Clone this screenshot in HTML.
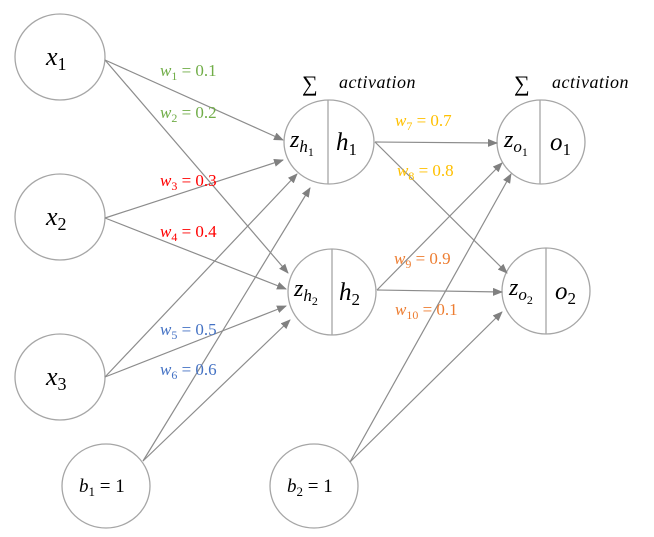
<!DOCTYPE html>
<html><head><meta charset="utf-8"><style>
html,body{margin:0;padding:0;background:#fff;width:654px;height:537px;overflow:hidden}
svg{display:block}
.m{font-family:"Liberation Serif",serif;font-style:italic}
.n{font-family:"Liberation Serif",serif;font-style:normal}
.w{font-family:"Liberation Serif",serif;font-size:17px}
</style></head><body>
<svg width="654" height="537" viewBox="0 0 654 537" xmlns="http://www.w3.org/2000/svg">
<defs>
<marker id="a" markerWidth="10" markerHeight="8" refX="9" refY="4" orient="auto" markerUnits="userSpaceOnUse">
<path d="M0,0 L10,4 L0,8 z" fill="#808080"/></marker>
</defs>
<g fill="none" stroke="#a6a6a6" stroke-width="1.3">
<ellipse cx="60" cy="57" rx="45" ry="43"/>
<ellipse cx="60" cy="217" rx="45" ry="43"/>
<ellipse cx="60" cy="377" rx="45" ry="43"/>
<ellipse cx="106" cy="486" rx="44" ry="42"/>
<ellipse cx="314" cy="486" rx="44" ry="42"/>
<ellipse cx="329" cy="142" rx="45" ry="42"/>
<ellipse cx="332" cy="292" rx="44" ry="43"/>
<ellipse cx="541" cy="142" rx="44" ry="42"/>
<ellipse cx="546" cy="291" rx="44" ry="43"/>
<line x1="328" y1="100" x2="328" y2="184"/>
<line x1="332" y1="249" x2="332" y2="335"/>
<line x1="540" y1="100" x2="540" y2="184"/>
<line x1="546" y1="248" x2="546" y2="334"/>
</g>
<g stroke="#8c8c8c" stroke-width="1.2" marker-end="url(#a)">
<line x1="105" y1="60" x2="283" y2="140"/>
<line x1="105" y1="60" x2="288" y2="273"/>
<line x1="105" y1="218" x2="283" y2="160"/>
<line x1="105" y1="218" x2="286" y2="289"/>
<line x1="105" y1="377" x2="297" y2="174"/>
<line x1="105" y1="377" x2="286" y2="306"/>
<line x1="143" y1="461" x2="310" y2="188"/>
<line x1="143" y1="461" x2="290" y2="320"/>
<line x1="375" y1="142" x2="497" y2="143"/>
<line x1="375" y1="142" x2="507" y2="273"/>
<line x1="377" y1="290" x2="502" y2="163"/>
<line x1="377" y1="290" x2="502" y2="292"/>
<line x1="350" y1="462" x2="511" y2="174"/>
<line x1="350" y1="462" x2="502" y2="312"/>
</g>
<g fill="#000">
<text x="46" y="65" class="m" font-size="26">x<tspan class="n" font-size="18" dy="5">1</tspan></text>
<text x="46" y="225" class="m" font-size="26">x<tspan class="n" font-size="18" dy="5">2</tspan></text>
<text x="46" y="385" class="m" font-size="26">x<tspan class="n" font-size="18" dy="5">3</tspan></text>
<text x="79" y="492" class="m" font-size="19">b<tspan class="n" font-size="13" dy="4">1</tspan><tspan class="n" dy="-4"> = 1</tspan></text>
<text x="287" y="492" class="m" font-size="19">b<tspan class="n" font-size="13" dy="4">2</tspan><tspan class="n" dy="-4"> = 1</tspan></text>
<text x="290" y="147" class="m" font-size="24">z<tspan font-size="17" dy="5">h</tspan><tspan class="n" font-size="12" dy="4">1</tspan></text>
<text x="336" y="150" class="m" font-size="25">h<tspan class="n" font-size="17" dy="5">1</tspan></text>
<text x="294" y="296" class="m" font-size="24">z<tspan font-size="17" dy="5">h</tspan><tspan class="n" font-size="12" dy="4">2</tspan></text>
<text x="339" y="300" class="m" font-size="25">h<tspan class="n" font-size="17" dy="5">2</tspan></text>
<text x="504" y="147" class="m" font-size="24">z<tspan font-size="17" dy="5">o</tspan><tspan class="n" font-size="12" dy="4">1</tspan></text>
<text x="550" y="150" class="m" font-size="25">o<tspan class="n" font-size="17" dy="5">1</tspan></text>
<text x="509" y="295" class="m" font-size="24">z<tspan font-size="17" dy="5">o</tspan><tspan class="n" font-size="12" dy="4">2</tspan></text>
<text x="555" y="299" class="m" font-size="25">o<tspan class="n" font-size="17" dy="5">2</tspan></text>
<text x="302" y="91" class="n" font-size="22">∑</text>
<text x="339" y="88" class="m" font-size="18" letter-spacing="0.5">activation</text>
<text x="514" y="91" class="n" font-size="22">∑</text>
<text x="552" y="88" class="m" font-size="18" letter-spacing="0.5">activation</text>
</g>
<g class="w">
<text x="160" y="76" fill="#70ad47"><tspan font-style="italic">w</tspan><tspan font-size="12" dy="4">1</tspan><tspan dy="-4"> = 0.1</tspan></text>
<text x="160" y="118" fill="#70ad47"><tspan font-style="italic">w</tspan><tspan font-size="12" dy="4">2</tspan><tspan dy="-4"> = 0.2</tspan></text>
<text x="160" y="186" fill="#ff0000"><tspan font-style="italic">w</tspan><tspan font-size="12" dy="4">3</tspan><tspan dy="-4"> = 0.3</tspan></text>
<text x="160" y="237" fill="#ff0000"><tspan font-style="italic">w</tspan><tspan font-size="12" dy="4">4</tspan><tspan dy="-4"> = 0.4</tspan></text>
<text x="160" y="335" fill="#4472c4"><tspan font-style="italic">w</tspan><tspan font-size="12" dy="4">5</tspan><tspan dy="-4"> = 0.5</tspan></text>
<text x="160" y="375" fill="#4472c4"><tspan font-style="italic">w</tspan><tspan font-size="12" dy="4">6</tspan><tspan dy="-4"> = 0.6</tspan></text>
<text x="395" y="126" fill="#ffc000"><tspan font-style="italic">w</tspan><tspan font-size="12" dy="4">7</tspan><tspan dy="-4"> = 0.7</tspan></text>
<text x="397" y="176" fill="#ffc000"><tspan font-style="italic">w</tspan><tspan font-size="12" dy="4">8</tspan><tspan dy="-4"> = 0.8</tspan></text>
<text x="394" y="264" fill="#ed7d31"><tspan font-style="italic">w</tspan><tspan font-size="12" dy="4">9</tspan><tspan dy="-4"> = 0.9</tspan></text>
<text x="395" y="315" fill="#ed7d31"><tspan font-style="italic">w</tspan><tspan font-size="12" dy="4">10</tspan><tspan dy="-4"> = 0.1</tspan></text>
</g>
</svg>
</body></html>
